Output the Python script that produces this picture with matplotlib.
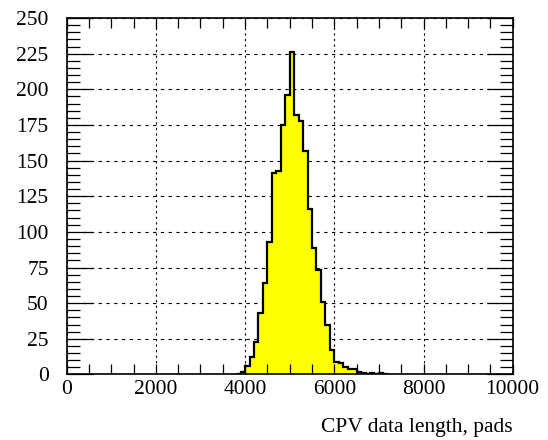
import numpy as np
import matplotlib
matplotlib.use("Agg")
import matplotlib.pyplot as plt
from matplotlib.ticker import MultipleLocator

# --------- data ---------
BIN_START = 3800      # left edge of first listed bin
BIN_WIDTH = 100
counts = [0, 2, 6, 12, 23, 43, 64, 93, 141, 143,
          175, 196, 226, 182, 178, 157, 116, 89, 73, 51,
          35, 17, 9, 8, 5, 4, 4, 2, 1, 0,
          1, 0, 1, 0]
x_ticks = [0, 2000, 4000, 6000, 8000, 10000]
y_ticks = [0, 25, 50, 75, 100, 125, 150, 175, 200, 225, 250]
x_title = "CPV data length, pads"
# --------------------------------------------------

plt.rcParams['font.family'] = ['Liberation Serif', 'DejaVu Serif']
plt.rcParams['font.size'] = 15.5

edges = BIN_START + BIN_WIDTH * np.arange(len(counts) + 1)

fig = plt.figure(figsize=(5.48, 4.40), dpi=100)
ax = fig.add_axes([0.1217, 0.149, 0.8139, 0.810])

# grid below the histogram
for v in x_ticks:
    ax.axvline(v, color='black', lw=0.8, ls=(0, (2, 3)), zorder=0.5)
for v in y_ticks:
    ax.axhline(v, color='black', lw=0.8, ls=(0, (3, 4)), zorder=0.5)

ax.stairs(counts, edges, fill=True, color='#ffff00', zorder=1)
ax.stairs(counts, edges, baseline=0, color='black', lw=1.6, zorder=1.2)

ax.set_xlim(0, 10000)
ax.set_ylim(0, 250)
ax.set_xticks(x_ticks)
ax.set_yticks(y_ticks)
ax.xaxis.set_minor_locator(MultipleLocator(500))
ax.yaxis.set_minor_locator(MultipleLocator(5))

ax.tick_params(axis='x', which='both', direction='in', top=True, bottom=True,
               length=7.2, width=0.9, pad=4)
ax.tick_params(axis='y', which='major', direction='in', left=True, right=True,
               length=19, width=0.9, pad=13)
ax.tick_params(axis='y', which='minor', direction='in', left=True, right=True,
               length=9.4, width=0.9)
for sp in ax.spines.values():
    sp.set_linewidth(1.2)

ax.set_xlabel(x_title, loc='right', labelpad=14)

fig.savefig("out.png", dpi=100)
